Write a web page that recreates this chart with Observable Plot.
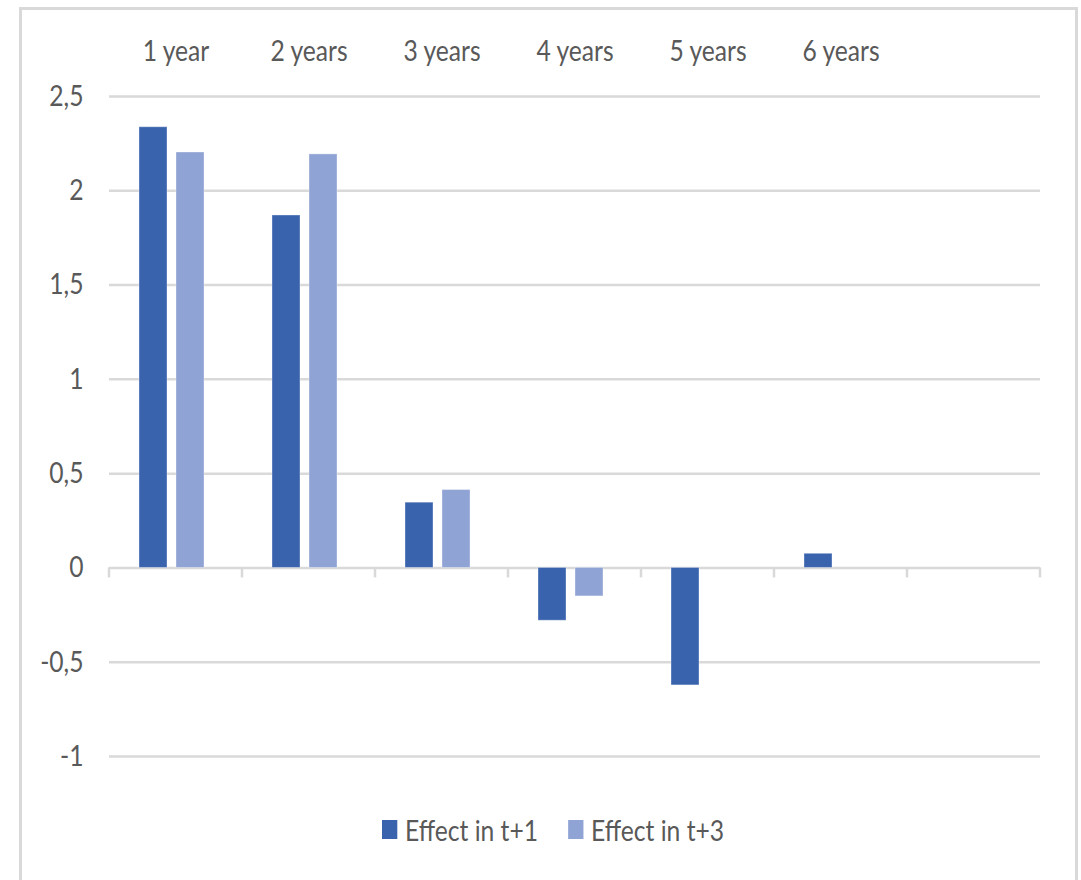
<!DOCTYPE html>
<html>
<head>
<meta charset="utf-8">
<script src="https://cdn.jsdelivr.net/npm/d3@7"></script>
<script src="https://cdn.jsdelivr.net/npm/@observablehq/plot@0.6"></script>
<style>
  body { margin: 0; background: #fff; }
  #border { position: absolute; left: 19px; top: 7px; width: 1053px; height: 900px; border: 3px solid #d9d9d9; }
  #chart { position: absolute; left: 0; top: 0; width: 1081px; }
  #legendWrap { position: relative; height: 80px; width: 1081px; }
  #legend { position: absolute; top: -6px; height: 70px; display: flex; align-items: center; white-space: nowrap;
    font-family: Lato, "Open Sans", sans-serif; font-size: 29px; color: #595959; transform-origin: 0 50%; }
  .sw { display: inline-block; height: 19px; }
</style>
</head>
<body>
<div id="border"></div>
<div id="chart"></div>
<script>
const categories = ["1 year", "2 years", "3 years", "4 years", "5 years", "6 years", ""];
const seriesNames = ["Effect in t+1", "Effect in t+3"];
const effectT1 = [2.337, 1.869, 0.346, -0.28, -0.623, 0.075];
const effectT3 = [2.203, 2.193, 0.413, -0.151, 0, 0];
const yTicks = [-1, -0.5, 0, 0.5, 1, 1.5, 2, 2.5];
const colors = ["#3a63ad", "#8fa3d4"];

const data = [];
categories.slice(0, 6).forEach((c, i) => {
  data.push({cat: c, series: seriesNames[0], value: effectT1[i]});
  data.push({cat: c, series: seriesNames[1], value: effectT3[i]});
});
const barData = data.filter(d => d.value !== 0);
const gridData = categories.flatMap(c => yTicks.map(t => ({cat: c, tick: t})));

const fontFamily = 'Lato, "Open Sans", sans-serif';

const plot = Plot.plot({
  width: 1081,
  height: 800,
  marginLeft: 106,
  marginRight: 38,
  marginTop: 96,
  marginBottom: 44,
  style: {fontFamily, fontSize: "29px", color: "#595959", background: "transparent", overflow: "visible"},
  fx: {domain: categories, padding: 0, label: null},
  x: {domain: seriesNames, paddingInner: 9 / 38, paddingOuter: 0.88, align: 0.44, axis: null},
  y: {domain: [-1, 2.5], label: null},
  color: {domain: seriesNames, range: colors},
  marks: [
    Plot.ruleY(gridData, {fx: "cat", y: "tick", stroke: "#d9d9d9", strokeWidth: 2.5}),
    Plot.axisY(yTicks, {tickSize: 0, tickPadding: 26, tickFormat: d => String(d).replace(".", ","), fill: "#595959", fontSize: 29, label: null}),
    Plot.axisFx({anchor: "top", tickSize: 0, tickPadding: 36, fill: "#595959", fontSize: 29, label: null}),
    Plot.barY(barData, {fx: "cat", x: "series", y: "value", fill: "series", stroke: "#ffffff", strokeOpacity: 0.35, strokeWidth: 1})
  ]
});

// category boundary ticks on the zero line, placed with Plot's own scales
const fx = plot.scale("fx");
const ys = plot.scale("y");
const y0 = ys.apply(0);
const svgNode = plot.tagName.toLowerCase() === "svg" ? plot : plot.querySelector("svg");
const svg = d3.select(svgNode);
const bounds = categories.map(c => fx.apply(c)).concat([fx.apply(categories[categories.length - 1]) + fx.bandwidth]);
svg.append("g").selectAll("line").data(bounds).join("line")
  .attr("x1", d => d).attr("x2", d => d)
  .attr("y1", y0).attr("y2", y0 + 10)
  .attr("stroke", "#d9d9d9").attr("stroke-width", 2.5);

document.getElementById("chart").append(plot);

// condense text horizontally (reference uses a narrow face)
const SX = 0.85;
svg.selectAll("text").each(function () {
  const t = d3.select(this);
  let tr = t.attr("transform");
  if (!tr) {
    const x = +t.attr("x") || 0, y = +t.attr("y") || 0;
    t.attr("x", null).attr("y", null);
    tr = `translate(${x},${y})`;
  }
  t.attr("transform", tr + ` scale(${SX},1)`);
});

// legend
const wrap = document.createElement("div");
wrap.id = "legendWrap";
const legend = document.createElement("div");
legend.id = "legend";
seriesNames.forEach((s, i) => {
  const sw = document.createElement("span");
  sw.className = "sw";
  sw.style.background = colors[i];
  sw.style.width = (15 / SX) + "px";
  sw.style.marginRight = (8 / SX) + "px";
  if (i > 0) sw.style.marginLeft = (30 / SX) + "px";
  const label = document.createElement("span");
  label.textContent = s;
  legend.append(sw, label);
});
wrap.append(legend);
document.getElementById("chart").append(wrap);
const w = legend.getBoundingClientRect().width;
const center = 553;
legend.style.left = (center - w * SX / 2) + "px";
legend.style.transform = `scaleX(${SX})`;
</script>
</body>
</html>
